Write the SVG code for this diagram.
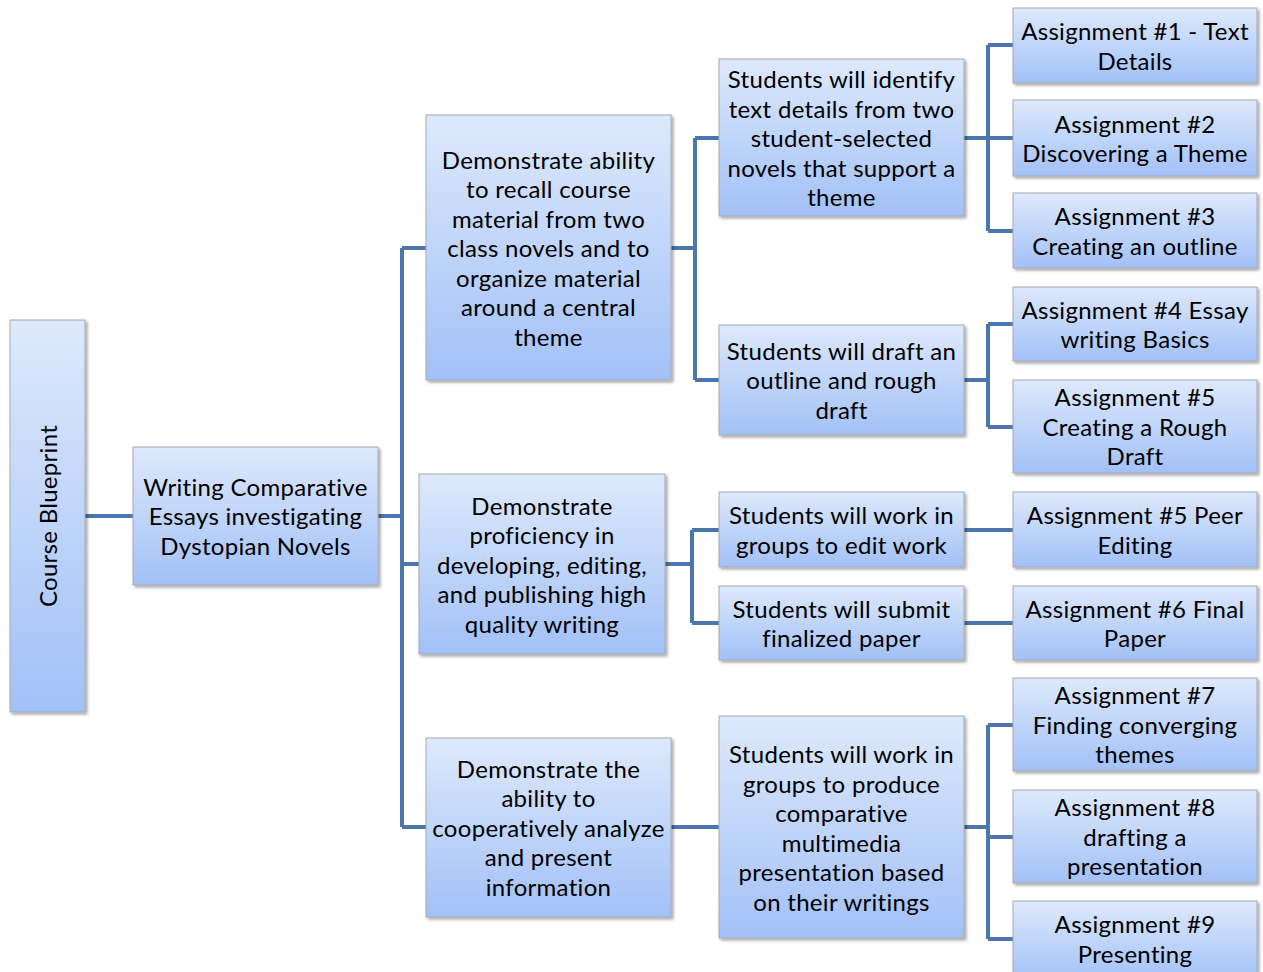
<svg xmlns="http://www.w3.org/2000/svg" width="1263" height="972" viewBox="0 0 1263 972">
<style>
.n rect{fill:url(#g);stroke:#a6a9b0;stroke-width:1;filter:url(#sh)}
.n text{font-family:"Lato","Open Sans",sans-serif;font-size:24px;letter-spacing:0.3px;fill:#000;text-anchor:middle;dominant-baseline:central}
.c path{fill:none;stroke:#4a76ad;stroke-width:4;stroke-linejoin:miter}
</style>
<defs>
<linearGradient id="g" x1="0" y1="0" x2="0" y2="1">
<stop offset="0" stop-color="#dee9fc"/>
<stop offset="1" stop-color="#a2c1f7"/>
</linearGradient>
<filter id="sh" x="-10%" y="-10%" width="130%" height="130%">
<feDropShadow dx="2" dy="2" stdDeviation="1.5" flood-color="#000" flood-opacity="0.35"/>
</filter>
</defs>
<rect width="1263" height="972" fill="#fff"/>
<g class="c" id="connectors">
<path d="M85 516H133"/>
<path d="M378 516H402M402 248V827M402 248H426M402 564H419M402 827H426"/>
<path d="M671 248H695M695 138V380M695 138H719M695 380H719"/>
<path d="M665 564H692M692 530V623M692 530H719M692 623H719"/>
<path d="M671 827H719"/>
<path d="M964 138H988M988 45V231M988 45H1013M988 138H1013M988 231H1013"/>
<path d="M964 380H988M988 324V427M988 324H1013M988 427H1013"/>
<path d="M964 530H1013"/>
<path d="M964 623H1013"/>
<path d="M964 827H988M988 725V939M988 725H1013M988 837H1013M988 939H1013"/>
</g>
<g class="n" id="n-course"><rect x="10" y="320" width="75" height="392"/><text transform="translate(47 516) rotate(-90)">Course Blueprint</text></g>
<g class="n" id="n-writing"><rect x="133" y="447" width="245" height="138"/><text x="255.5"><tspan y="485.5">Writing Comparative</tspan><tspan x="255.5" y="515">Essays investigating</tspan><tspan x="255.5" y="544.5">Dystopian Novels</tspan></text></g>
<g class="n" id="n-recall"><rect x="426" y="115" width="245" height="265"/><text x="548.5"><tspan y="158.5">Demonstrate ability</tspan><tspan x="548.5" y="188">to recall course</tspan><tspan x="548.5" y="217.5">material from two</tspan><tspan x="548.5" y="247">class novels and to</tspan><tspan x="548.5" y="276.5">organize material</tspan><tspan x="548.5" y="306">around a central</tspan><tspan x="548.5" y="335.5">theme</tspan></text></g>
<g class="n" id="n-proficiency"><rect x="419" y="474" width="246" height="180"/><text x="542"><tspan y="504.5">Demonstrate</tspan><tspan x="542" y="534">proficiency in</tspan><tspan x="542" y="563.5">developing, editing,</tspan><tspan x="542" y="593">and publishing high</tspan><tspan x="542" y="622.5">quality writing</tspan></text></g>
<g class="n" id="n-coop"><rect x="426" y="738" width="245" height="179"/><text x="548.5"><tspan y="767.5">Demonstrate the</tspan><tspan x="548.5" y="797">ability to</tspan><tspan x="548.5" y="826.5">cooperatively analyze</tspan><tspan x="548.5" y="856">and present</tspan><tspan x="548.5" y="885.5">information</tspan></text></g>
<g class="n" id="n-identify"><rect x="719" y="59" width="245" height="157"/><text x="841.5"><tspan y="78">Students will identify</tspan><tspan x="841.5" y="107.5">text details from two</tspan><tspan x="841.5" y="137">student-selected</tspan><tspan x="841.5" y="166.5">novels that support a</tspan><tspan x="841.5" y="196">theme</tspan></text></g>
<g class="n" id="n-draft"><rect x="719" y="325" width="245" height="110"/><text x="841.5"><tspan y="349.5">Students will draft an</tspan><tspan x="841.5" y="379">outline and rough</tspan><tspan x="841.5" y="408.5">draft</tspan></text></g>
<g class="n" id="n-edit"><rect x="719" y="492" width="245" height="75"/><text x="841.5"><tspan y="514">Students will work in</tspan><tspan x="841.5" y="543.5">groups to edit work</tspan></text></g>
<g class="n" id="n-submit"><rect x="719" y="586" width="245" height="74"/><text x="841.5"><tspan y="607.5">Students will submit</tspan><tspan x="841.5" y="637">finalized paper</tspan></text></g>
<g class="n" id="n-produce"><rect x="719" y="716" width="245" height="222"/><text x="841.5"><tspan y="753">Students will work in</tspan><tspan x="841.5" y="782.5">groups to produce</tspan><tspan x="841.5" y="812">comparative</tspan><tspan x="841.5" y="841.5">multimedia</tspan><tspan x="841.5" y="871">presentation based</tspan><tspan x="841.5" y="900.5">on their writings</tspan></text></g>
<g class="n" id="n-a1"><rect x="1013" y="8" width="244" height="75"/><text x="1135"><tspan y="30">Assignment #1 - Text</tspan><tspan x="1135" y="59.5">Details</tspan></text></g>
<g class="n" id="n-a2"><rect x="1013" y="100" width="244" height="76"/><text x="1135"><tspan y="122.5">Assignment #2</tspan><tspan x="1135" y="152">Discovering a Theme</tspan></text></g>
<g class="n" id="n-a3"><rect x="1013" y="193" width="244" height="75"/><text x="1135"><tspan y="215">Assignment #3</tspan><tspan x="1135" y="244.5">Creating an outline</tspan></text></g>
<g class="n" id="n-a4"><rect x="1013" y="287" width="244" height="74"/><text x="1135"><tspan y="308.5">Assignment #4 Essay</tspan><tspan x="1135" y="338">writing Basics</tspan></text></g>
<g class="n" id="n-a5"><rect x="1013" y="380" width="244" height="93"/><text x="1135"><tspan y="396">Assignment #5</tspan><tspan x="1135" y="425.5">Creating a Rough</tspan><tspan x="1135" y="455">Draft</tspan></text></g>
<g class="n" id="n-a5p"><rect x="1013" y="492" width="244" height="75"/><text x="1135"><tspan y="514">Assignment #5 Peer</tspan><tspan x="1135" y="543.5">Editing</tspan></text></g>
<g class="n" id="n-a6"><rect x="1013" y="586" width="244" height="74"/><text x="1135"><tspan y="607.5">Assignment #6 Final</tspan><tspan x="1135" y="637">Paper</tspan></text></g>
<g class="n" id="n-a7"><rect x="1013" y="678" width="244" height="93"/><text x="1135"><tspan y="694">Assignment #7</tspan><tspan x="1135" y="723.5">Finding converging</tspan><tspan x="1135" y="753">themes</tspan></text></g>
<g class="n" id="n-a8"><rect x="1013" y="790" width="244" height="93"/><text x="1135"><tspan y="806">Assignment #8</tspan><tspan x="1135" y="835.5">drafting a</tspan><tspan x="1135" y="865">presentation</tspan></text></g>
<g class="n" id="n-a9"><rect x="1013" y="901" width="244" height="80"/><text x="1135"><tspan y="923">Assignment #9</tspan><tspan x="1135" y="952.5">Presenting</tspan></text></g>
</svg>
